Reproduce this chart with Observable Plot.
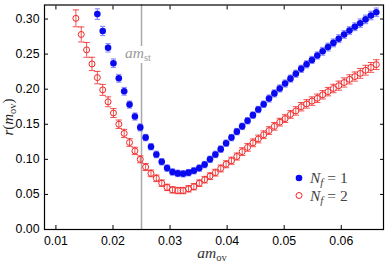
<!DOCTYPE html>
<html><head><meta charset="utf-8">
<script src="https://cdn.jsdelivr.net/npm/d3@7"></script>
<script src="https://cdn.jsdelivr.net/npm/@observablehq/plot@0.6"></script>
<style>body{margin:0;background:#fff}</style>
</head><body><div id="chart"></div>
<script>
// am_ov values (shared x grid)
const amOv = [
  0.01350, 0.01444, 0.01538, 0.01632, 0.01726, 0.01820, 0.01914, 0.02008, 0.02102, 0.02196,
  0.02290, 0.02384, 0.02478, 0.02572, 0.02666, 0.02760, 0.02854, 0.02948, 0.03042, 0.03136,
  0.03230, 0.03324, 0.03418, 0.03512, 0.03606, 0.03700, 0.03794, 0.03888, 0.03982, 0.04076,
  0.04170, 0.04264, 0.04358, 0.04452, 0.04546, 0.04640, 0.04734, 0.04828, 0.04922, 0.05016,
  0.05110, 0.05204, 0.05298, 0.05392, 0.05486, 0.05580, 0.05674, 0.05768, 0.05862, 0.05956,
  0.06050, 0.06144, 0.06238, 0.06332, 0.06426, 0.06520, 0.06614
];
// N_f = 1 (filled blue)
const rNf1 = [
  null, null, null, null, 0.307, 0.283, 0.259, 0.237, 0.2155, 0.197,
  0.178, 0.161, 0.1455, 0.131, 0.118, 0.107, 0.0965, 0.0875, 0.082, 0.080,
  0.0795, 0.081, 0.0838, 0.0875, 0.0925, 0.100, 0.107, 0.1145, 0.123, 0.131,
  0.1395, 0.147, 0.155, 0.163, 0.171, 0.1785, 0.1866, 0.194, 0.201, 0.208,
  0.215, 0.222, 0.229, 0.2355, 0.2417, 0.248, 0.254, 0.260, 0.266, 0.272,
  0.278, 0.2835, 0.289, 0.294, 0.2995, 0.305, 0.3096
];
const errNf1 = [
  null, null, null, null, 0.0075, 0.0065, 0.006, 0.006, 0.0055, 0.0055,
  0.005, 0.005, 0.005, 0.0045, 0.0045, 0.0045, 0.0045, 0.0045, 0.0045, 0.0045,
  0.0045, 0.0045, 0.0045, 0.0045, 0.0045, 0.0045, 0.0045, 0.0045, 0.0045, 0.0045,
  0.0045, 0.0045, 0.0045, 0.0045, 0.0045, 0.0045, 0.005, 0.005, 0.005, 0.005,
  0.005, 0.005, 0.005, 0.005, 0.005, 0.005, 0.0055, 0.0055, 0.0055, 0.0055,
  0.0055, 0.0055, 0.0055, 0.006, 0.006, 0.006, 0.006
];
// N_f = 2 (open red)
const rNf2 = [
  0.301, 0.278, 0.256, 0.236, 0.2165, 0.199, 0.182, 0.166, 0.150, 0.137,
  0.124, 0.112, 0.100, 0.089, 0.080, 0.073, 0.066, 0.060, 0.0565, 0.0555,
  0.0555, 0.058, 0.061, 0.066, 0.071, 0.076, 0.081, 0.087, 0.093, 0.098,
  0.104, 0.111, 0.117, 0.1235, 0.129, 0.135, 0.141, 0.147, 0.153, 0.158,
  0.164, 0.169, 0.175, 0.179, 0.183, 0.187, 0.192, 0.1965, 0.201, 0.205,
  0.2095, 0.214, 0.218, 0.2225, 0.227, 0.231, 0.235
];
const errNf2 = [
  0.012, 0.0107, 0.0105, 0.0095, 0.0088, 0.0078, 0.007, 0.0064, 0.006, 0.0058,
  0.0055, 0.0052, 0.005, 0.005, 0.0048, 0.0047, 0.0046, 0.0045, 0.0045, 0.0045,
  0.0045, 0.0045, 0.0045, 0.0046, 0.0047, 0.0048, 0.0048, 0.0049, 0.005, 0.005,
  0.005, 0.0055, 0.0055, 0.0055, 0.0055, 0.0055, 0.0055, 0.0055, 0.0055, 0.0055,
  0.0055, 0.006, 0.006, 0.006, 0.006, 0.006, 0.006, 0.006, 0.006, 0.0065,
  0.0065, 0.0065, 0.0065, 0.007, 0.007, 0.007, 0.007
];
const amSt = [0.025];
const xTicks = [0.01, 0.02, 0.03, 0.04, 0.05, 0.06];
const yTicks = [0.00, 0.05, 0.10, 0.15, 0.20, 0.25, 0.30];
const seriesNames = ["1", "2"];

const BLUE = "#0a0af0", BLUE_ERR = "#8f8fff", RED = "#f02828";

const toRows = (ys, es) => amOv.map((x, i) => ({x, y: ys[i], e: es[i]})).filter(d => d.y != null);
const nf1 = toRows(rNf1, errNf1);
const nf2 = toRows(rNf2, errNf2);

const cap = {draw(ctx) { ctx.moveTo(-3.2, 0); ctx.lineTo(3.2, 0); }};
const capSmall = {draw(ctx) { ctx.moveTo(-2.6, 0); ctx.lineTo(2.6, 0); }};

const plot = Plot.plot({
  width: 392, height: 268,
  marginLeft: 44, marginRight: 9, marginTop: 4.5, marginBottom: 39,
  x: {domain: [0.008, 0.0674], axis: null},
  y: {domain: [0, 0.32], axis: null},
  style: {fontFamily: "'Liberation Sans', Arial, sans-serif", fontSize: "12.3px", color: "#000", background: "#fff", overflow: "visible"},
  marks: [
    Plot.ruleX(amSt, {stroke: "#a8a8a8", strokeWidth: 1.5}),
    // N_f=2 error bars
    Plot.ruleX(nf2, {x: "x", y1: d => d.y - d.e, y2: d => d.y + d.e, stroke: RED, strokeOpacity: 0.8, strokeWidth: 1}),
    Plot.dot(nf2, {x: "x", y: d => d.y + d.e, symbol: cap, stroke: RED, strokeOpacity: 0.8, strokeWidth: 1}),
    Plot.dot(nf2, {x: "x", y: d => d.y - d.e, symbol: cap, stroke: RED, strokeOpacity: 0.8, strokeWidth: 1}),
    // N_f=1 error bars
    Plot.ruleX(nf1, {x: "x", y1: d => d.y - d.e, y2: d => d.y + d.e, stroke: BLUE_ERR, strokeWidth: 1.2}),
    Plot.dot(nf1, {x: "x", y: d => d.y + d.e, symbol: capSmall, stroke: BLUE_ERR, strokeWidth: 1.2}),
    Plot.dot(nf1, {x: "x", y: d => d.y - d.e, symbol: capSmall, stroke: BLUE_ERR, strokeWidth: 1.2}),
    // points
    Plot.dot(nf1, {x: "x", y: "y", r: 3.3, fill: BLUE, stroke: "none"}),
    Plot.dot(nf2, {x: "x", y: "y", r: 3, fill: "none", stroke: RED, strokeWidth: 1}),
    // axes (inward ticks, mirrored)
    Plot.axisX(xTicks, {anchor: "bottom", tickSize: -4, tickPadding: 11, tickFormat: d3.format(".2f"), label: null}),
    Plot.axisX(xTicks, {anchor: "top", tickSize: -4, tickFormat: () => "", label: null}),
    Plot.axisY(yTicks, {anchor: "left", tickSize: -4, tickPadding: 9, tickFormat: d3.format(".2f"), label: null}),
    Plot.axisY(yTicks, {anchor: "right", tickSize: -4, tickFormat: () => "", label: null}),
    Plot.frame({stroke: "#000", strokeWidth: 1.2})
  ]
});
document.getElementById("chart").appendChild(plot);

const svg = d3.select(plot);
const serif = "'Liberation Serif', 'Times New Roman', serif";

// y axis label r(m_ov)
const yl = svg.append("text").attr("transform", "translate(13,117) rotate(-90)")
  .attr("text-anchor", "middle").attr("font-family", serif).attr("font-size", 15).attr("fill", "#222");
yl.append("tspan").attr("font-style", "italic").text("r");
yl.append("tspan").text("(");
yl.append("tspan").attr("font-style", "italic").text("m");
yl.append("tspan").attr("font-size", 10.5).attr("dy", 3).text("ov");
yl.append("tspan").attr("dy", -3).text(")");

// x axis label am_ov
const xl = svg.append("text").attr("x", 212).attr("y", 258)
  .attr("text-anchor", "middle").attr("font-family", serif).attr("font-size", 15.5).attr("fill", "#333");
xl.append("tspan").attr("font-style", "italic").text("am");
xl.append("tspan").attr("font-size", 10.5).attr("dy", 3).text("ov");

// am_st label with white background over the vertical line
const sl = svg.append("text").attr("x", 138).attr("y", 58)
  .attr("text-anchor", "middle").attr("font-family", serif).attr("font-size", 15.5).attr("fill", "#9a9a9a");
sl.append("tspan").attr("font-style", "italic").text("am");
sl.append("tspan").attr("font-size", 10.5).attr("dy", 3).text("st");
const bb = sl.node().getBBox();
svg.insert("rect", function() { return sl.node(); })
  .attr("x", bb.x - 1).attr("y", bb.y + 2).attr("width", bb.width + 2).attr("height", bb.height - 2).attr("fill", "#fff");

// legend
const legendItems = [
  {name: seriesNames[0], y: 178, fill: BLUE, stroke: "none", r: 3.3},
  {name: seriesNames[1], y: 195.5, fill: "none", stroke: RED, r: 3}
];
for (const it of legendItems) {
  svg.append("circle").attr("cx", 299).attr("cy", it.y).attr("r", it.r)
    .attr("fill", it.fill).attr("stroke", it.stroke);
  const t = svg.append("text").attr("x", 310).attr("y", it.y + 5)
    .attr("text-anchor", "start").attr("font-family", serif).attr("font-size", 15.5).attr("fill", "#444");
  t.append("tspan").attr("font-style", "italic").text("N");
  t.append("tspan").attr("font-style", "italic").attr("font-size", 11).attr("dy", 3).text("f");
  t.append("tspan").attr("dy", -3).text(" = " + it.name);
}
</script>
</body></html>
